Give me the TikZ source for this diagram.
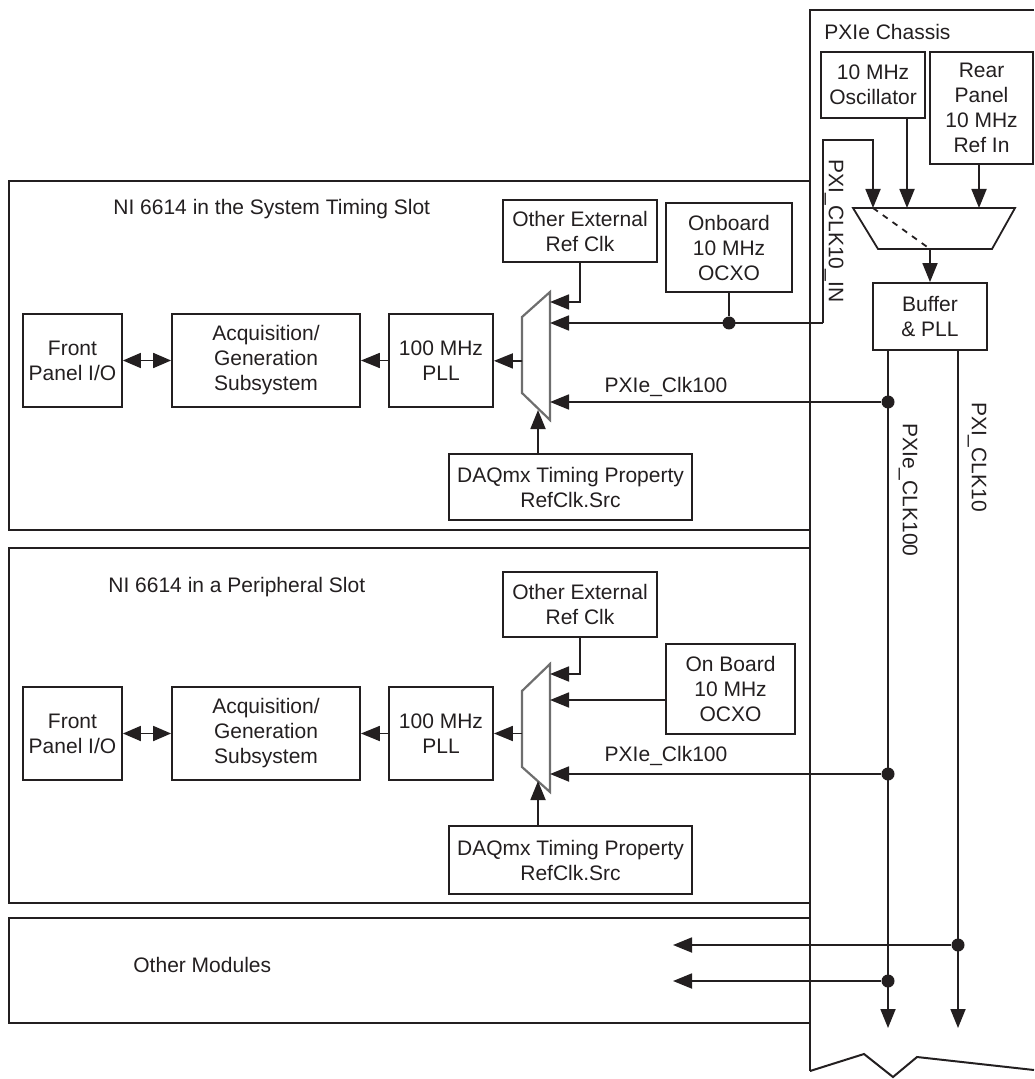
\documentclass[tikz,border=0pt]{standalone}
\usepackage{fontspec}
\setmainfont{Liberation Sans}
\usetikzlibrary{arrows.meta,calc}
\definecolor{ink}{HTML}{231F20}
\definecolor{rim}{HTML}{6E6E6E}

\begin{document}
\begin{tikzpicture}[x=0.5pt, y=-0.5pt,
  every node/.style={text=ink, font=\fontsize{10.5}{12.5}\selectfont},
  blk/.style={draw=ink, line width=0.9pt, align=center, inner sep=0pt},
  ttl/.style={anchor=west, inner sep=0pt},
  sig/.style={draw=ink, line width=0.9pt},
  arr/.style={-{Triangle[length=9.5pt,width=7.5pt]}},
  arrboth/.style={{Triangle[length=9pt,width=7.5pt]}-{Triangle[length=9pt,width=7.5pt]}},
  junc/.style={circle, fill=ink, inner sep=0pt, minimum size=6.5pt},
  slot/.style={draw=ink, line width=1pt},
  muxline/.style={draw=rim, line width=1.1pt}]
  \useasboundingbox (0,0) rectangle (1034,1079);

  % system timing slot
  \draw[slot] (9,181) rectangle (810,530);
  \node[ttl] (ttl1) at (113,209) {NI 6614 in the System Timing Slot};
  \node[blk, minimum width=49.5pt, minimum height=46.5pt] (fpio1) at (72.5,360.5) {Front\\Panel I/O};
  \node[blk, minimum width=94pt, minimum height=46.5pt] (acq1) at (266,360.5) {Acquisition/\\Generation\\Subsystem};
  \node[blk, minimum width=52pt, minimum height=46.5pt] (pll1) at (441,360.5) {100 MHz\\PLL};
  \node[blk, minimum width=77pt, minimum height=31pt] (oext1) at (580,231) {Other External\\Ref Clk};
  \node[blk, minimum width=63pt, minimum height=44.5pt] (ocxo1) at (729,247.5) {Onboard\\10 MHz\\OCXO};
  \node[blk, minimum width=121.5pt, minimum height=33pt] (daq1) at (570.5,487) {DAQmx Timing Property\\RefClk.Src};
  \draw[muxline] (522,317) -- (550,292) -- (550,420) -- (522,393) -- cycle;
  \coordinate (m1o) at (522,361);
  \coordinate (m1a) at (550,302);
  \coordinate (m1b) at (550,323);
  \coordinate (m1c) at (550,402);
  \coordinate (m1s) at (538,410);
  \draw[sig, arrboth] (fpio1) -- (acq1);
  \draw[sig, arr] (pll1) -- (acq1);
  \draw[sig, arr] (m1o) -- (pll1);
  \draw[sig, arr] (oext1) |- (m1a);
  \node[junc] (j1) at (729,323) {};
  \draw[sig] (ocxo1) -- (j1);
  \coordinate (clkin) at (823,323);
  \coordinate (clktop) at (823,140);
  \coordinate (cm1) at (873,208);
  \draw[sig, arr] (clkin) -- (m1b);
  \draw[sig, arr] (clkin) -- (clktop) -| (cm1);
  \node[junc] (j2) at (888,402) {};
  \draw[sig, arr] (j2) -- (m1c);
  \node (lbl1) at (666,387) {PXIe\_Clk100};
  \draw[sig, arr] (daq1.north -| m1s) -- (m1s);

  % peripheral slot
  \draw[slot] (9,548) rectangle (810,903);
  \node[ttl] (ttl2) at (108,587) {NI 6614 in a Peripheral Slot};
  \node[blk, minimum width=49.5pt, minimum height=46.5pt] (fpio2) at (72.5,733.5) {Front\\Panel I/O};
  \node[blk, minimum width=94pt, minimum height=46.5pt] (acq2) at (266,733.5) {Acquisition/\\Generation\\Subsystem};
  \node[blk, minimum width=52pt, minimum height=46.5pt] (pll2) at (441,733.5) {100 MHz\\PLL};
  \node[blk, minimum width=77pt, minimum height=32.5pt] (oext2) at (580,604.5) {Other External\\Ref Clk};
  \node[blk, minimum width=64.5pt, minimum height=45pt] (ocxo2) at (730.5,689) {On Board\\10 MHz\\OCXO};
  \node[blk, minimum width=121.5pt, minimum height=34pt] (daq2) at (570.5,860) {DAQmx Timing Property\\RefClk.Src};
  \draw[muxline] (522,691) -- (550,664) -- (550,792) -- (522,767) -- cycle;
  \coordinate (m2o) at (522,733.5);
  \coordinate (m2a) at (550,674);
  \coordinate (m2b) at (550,700);
  \coordinate (m2c) at (550,774);
  \coordinate (m2s) at (538,781);
  \draw[sig, arrboth] (fpio2) -- (acq2);
  \draw[sig, arr] (pll2) -- (acq2);
  \draw[sig, arr] (m2o) -- (pll2);
  \draw[sig, arr] (oext2) |- (m2a);
  \draw[sig, arr] (ocxo2.west |- m2b) -- (m2b);
  \node[junc] (j3) at (888,774) {};
  \draw[sig, arr] (j3) -- (m2c);
  \node (lbl2) at (666,756) {PXIe\_Clk100};
  \draw[sig, arr] (daq2.north -| m2s) -- (m2s);

  % other modules
  \draw[slot] (9,918) rectangle (810,1023);
  \node[ttl] (ttl4) at (133,965) {Other Modules};
  \node[junc] (j4) at (958,945) {};
  \node[junc] (j5) at (888,981) {};
  \coordinate (om1) at (673,945);
  \coordinate (om2) at (673,981);
  \draw[sig, arr] (j4) -- (om1);
  \draw[sig, arr] (j5) -- (om2);

  % chassis
  \draw[slot] (810,1071) -- (810,10) -- (1034,10);
  \draw[slot] (810,1071) -- (864,1054) -- (893,1077) -- (917,1057) -- (1034,1070);
  \node[ttl] (ttl3) at (824,32) {PXIe Chassis};
  \node[blk, minimum width=52pt, minimum height=33pt] (osc) at (873,85) {10 MHz\\Oscillator};
  \node[blk, minimum width=51.5pt, minimum height=56pt] (rear) at (981.5,108) {Rear\\Panel\\10 MHz\\Ref In};
  \draw[sig] (853,208) -- (1015,208) -- (992,249) -- (878,249) -- cycle;
  \draw[sig, dashed] (873,208) -- (930,249);
  \coordinate (cm2) at (907,208);
  \coordinate (cm3) at (979,208);
  \coordinate (cmo) at (930,249);
  \draw[sig, arr] (osc.south -| cm2) -- (cm2);
  \draw[sig, arr] (rear.south -| cm3) -- (cm3);
  \node[blk, minimum width=57pt, minimum height=33.5pt] (buf) at (930,316.5) {Buffer\\\& PLL};
  \draw[sig, arr] (cmo) -- (buf);
  \coordinate (e100) at (888,1028);
  \coordinate (e10) at (958,1028);
  \draw[sig, arr] (buf.south -| e100) -- (e100);
  \draw[sig, arr] (buf.south -| e10) -- (e10);
  \node[rotate=-90] (lbl3) at (834,231) {PXI\_CLK10\_IN};
  \node[rotate=-90] (lbl4) at (908,490) {PXIe\_CLK100};
  \node[rotate=-90] (lbl5) at (977,457) {PXI\_CLK10};
\end{tikzpicture}
\end{document}
